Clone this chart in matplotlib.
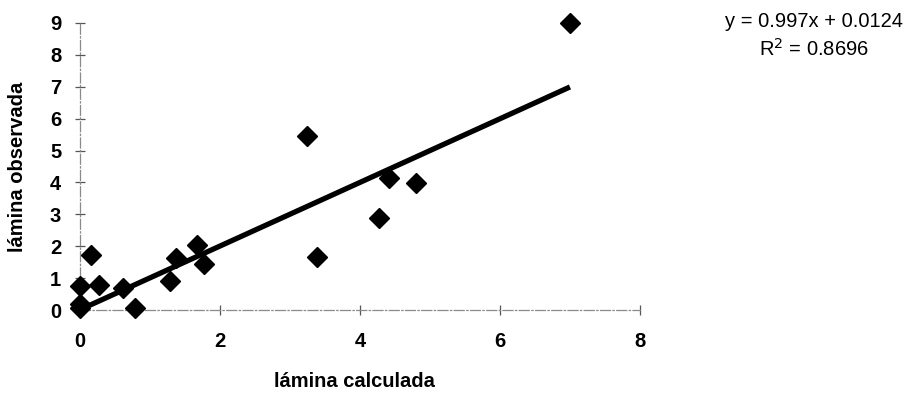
import matplotlib.pyplot as plt
import numpy as np

plt.rcParams['font.family'] = ['Liberation Sans', 'DejaVu Sans']

# lámina calculada vs lámina observada
calculada = [7.0, 3.25, 4.42, 4.8, 4.27, 3.38, 1.67, 1.37, 1.77, 1.28,
             0.16, 0.27, 0.0, 0.0, 0.0, 0.62, 0.78]
observada = [9.0, 5.45, 4.15, 3.97, 2.87, 1.66, 2.03, 1.63, 1.43, 0.9,
             1.73, 0.8, 0.75, 0.2, 0.05, 0.68, 0.05]
slope = 0.997
intercept = 0.0124
r2 = 0.8696

fig = plt.figure(figsize=(9.09, 3.94), dpi=100)
ax = fig.add_axes([0.088, 0.213, 0.616, 0.729])

xs = np.array([0.0, 7.0])
ax.plot(xs, slope * xs + intercept, color='black', lw=3.8, solid_capstyle='butt', zorder=2)
ax.plot(calculada, observada, 'D', color='black', ms=10, zorder=3, clip_on=False)

ax.set_xlim(0, 8)
ax.set_ylim(0, 9)
ax.set_xticks([0, 2, 4, 6, 8])
ax.set_yticks(range(10))

for s in ['top', 'right']:
    ax.spines[s].set_visible(False)
for s in ['left', 'bottom']:
    ax.spines[s].set_color('#8a8a8a')
    ax.spines[s].set_linewidth(0.9)
    ax.spines[s].set_linestyle((0, (8, 2, 1, 2)))

ax.tick_params(direction='inout', length=7, width=0.9, color='#555555',
               labelsize=14.5)
ax.tick_params(axis='x', pad=12)
ax.tick_params(axis='y', pad=10)
for lab in ax.get_xticklabels() + ax.get_yticklabels():
    lab.set_fontweight('bold')

ax.set_xlabel('lámina calculada', fontsize=14.5, fontweight='bold')
ax.set_ylabel('lámina observada', fontsize=14.5, fontweight='bold')
ax.xaxis.set_label_coords(0.49, -0.215)
ax.yaxis.set_label_coords(-0.094, 0.5)

fig.text(0.895, 0.945, 'y = 0.997x + 0.0124', ha='center', va='center', fontsize=14.5)
fig.text(0.895, 0.875, 'R$^2$ = 0.8696', ha='center', va='center', fontsize=14.5)

fig.savefig('out.png', dpi=100)
